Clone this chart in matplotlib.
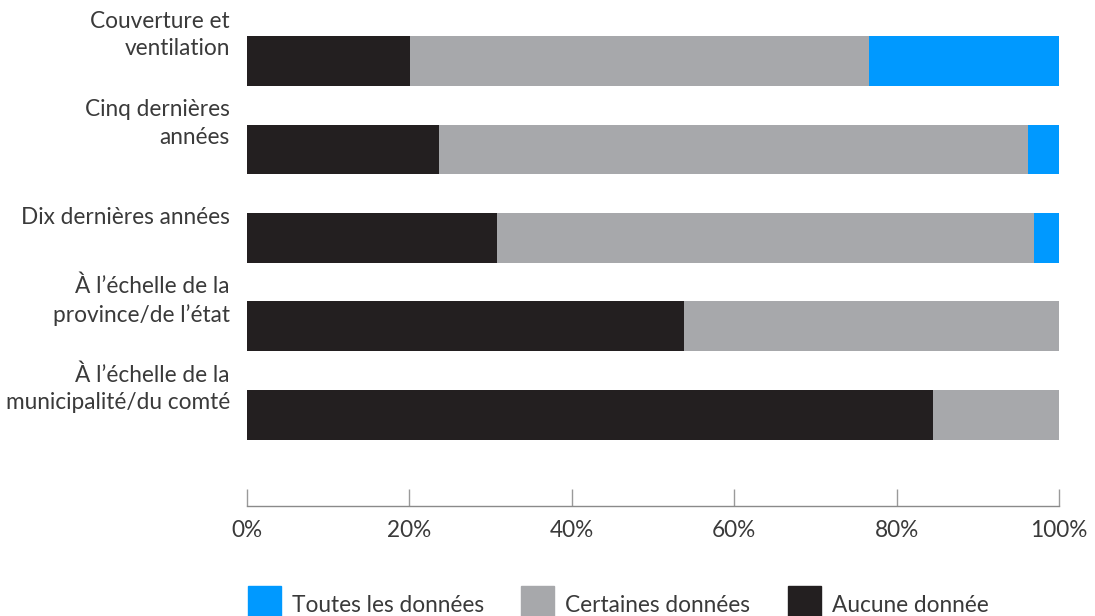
import matplotlib
matplotlib.use("Agg")
import matplotlib.pyplot as plt
from matplotlib.patches import Rectangle
from matplotlib.ticker import FuncFormatter

categories = ["Couverture et\nventilation", "Cinq dernières\nannées", "Dix dernières années",
              "À l’échelle de la\nprovince/de l’état", "À l’échelle de la\nmunicipalité/du comté"]
aucune = [20.1, 23.6, 30.8, 53.8, 84.5]
certaines = [56.5, 72.6, 66.1, 46.2, 15.5]
toutes = [23.4, 3.8, 3.1, 0.0, 0.0]
series_names = ["Toutes les données", "Certaines données", "Aucune donnée"]
colors = {"Toutes les données": "#0099FF", "Certaines données": "#A7A8AB", "Aucune donnée": "#231F20"}
xticks = [0, 20, 40, 60, 80, 100]

plt.rcParams['font.family'] = ['Lato', 'DejaVu Sans']
txt = "#3a3a3a"
fs = 16.3

fig = plt.figure(figsize=(10.95, 6.16), dpi=100)
ax = fig.add_axes([247/1095, 1-506/616, 812/1095, 506/616])

y = list(range(len(categories)))
h = 0.565
ax.barh(y, aucune, height=h, color=colors["Aucune donnée"])
ax.barh(y, certaines, left=aucune, height=h, color=colors["Certaines données"])
left3 = [a + c for a, c in zip(aucune, certaines)]
ax.barh(y, toutes, left=left3, height=h, color=colors["Toutes les données"])

ax.set_xlim(0, 100)
ax.set_ylim(5.03, -0.69)
ax.set_yticks([])
for s in ["top", "right", "left"]:
    ax.spines[s].set_visible(False)
ax.spines["bottom"].set_color("#8a8a8a")
ax.spines["bottom"].set_linewidth(1.0)
ax.set_xticks(xticks)
ax.xaxis.set_major_formatter(FuncFormatter(lambda v, p: f"{v:.0f}%"))
ax.tick_params(axis="x", direction="in", length=12.5, width=1.0, color="#9a9a9a",
               pad=10, labelsize=fs, labelcolor=txt)

for yi, lab in zip(y, categories):
    off = 0.05 if "\n" not in lab else -0.01
    ax.text(-2.1, yi - h/2 + off, lab, ha="right", va="center", fontsize=fs, color=txt,
            linespacing=1.38)

# legend
lx = [248, 521, 788]
for x0, name in zip(lx, series_names):
    fig.patches.append(Rectangle((x0/1095, 1-619/616), 33/1095, 33/616,
                                 transform=fig.transFigure, color=colors[name]))
    fig.text((x0+44)/1095, 1-605/616, name, ha="left", va="center", fontsize=fs, color=txt)

fig.savefig("out.png", dpi=100)
